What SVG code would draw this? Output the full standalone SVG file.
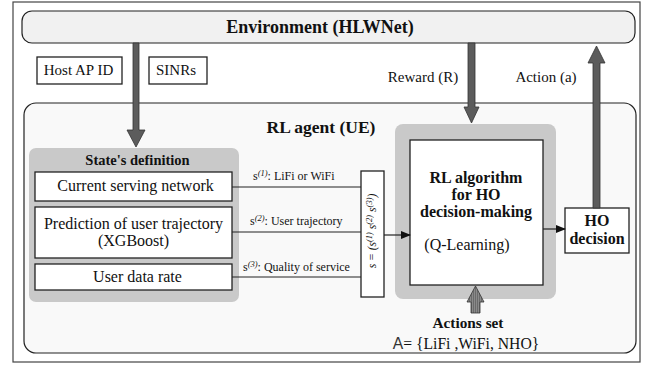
<svg xmlns="http://www.w3.org/2000/svg" width="652" height="365" viewBox="0 0 652 365" font-family="'Liberation Serif', 'DejaVu Serif', serif">
<style>
text{font-family:'Liberation Serif','DejaVu Serif',serif;fill:#111}
.b{font-weight:bold}
.box{fill:#fff;stroke:#222;stroke-width:1.3}
.grey{fill:#c9c9c9;stroke:none}
.arr{fill:#5c5c5c;stroke:#333;stroke-width:0.8}
.ln{stroke:#222;stroke-width:1.2;fill:none}
.lbl{font-size:12px}
.sup{font-size:8.5px;font-style:italic}
</style>
<defs>
<marker id="ah" markerWidth="10" markerHeight="8" refX="9" refY="4" orient="auto" markerUnits="userSpaceOnUse">
<path d="M0,0 L10,4 L0,8 Z" fill="#111"/>
</marker>
<pattern id="hatch" width="2" height="3" patternUnits="userSpaceOnUse">
<rect width="2" height="3" fill="#6a6a6a"/>
<rect width="1" height="3" fill="#8a8a8a"/>
</pattern>
</defs>
<rect x="13" y="2" width="627" height="360" fill="#fff" stroke="#444" stroke-width="1.2"/>
<g id="environment">
<rect x="22" y="11" width="613" height="32" rx="10" fill="#f1f1f1" stroke="#222" stroke-width="1.2"/>
<text x="320" y="33" class="b" font-size="18" text-anchor="middle">Environment (HLWNet)</text>
</g>
<g id="host-ap-id">
<rect x="37" y="57" width="85" height="27" class="box"/>
<text x="78.5" y="75" font-size="15" text-anchor="middle">Host AP ID</text>
</g>
<g id="sinrs">
<rect x="149" y="57" width="58" height="27" class="box"/>
<text x="176" y="75" font-size="15" text-anchor="middle">SINRs</text>
</g>
<text x="423" y="82" font-size="15" text-anchor="middle">Reward (R)</text>
<text x="546" y="82" font-size="15" text-anchor="middle">Action (a)</text>
<g id="rl-agent">
<rect x="24" y="103" width="612" height="250" rx="12" fill="#f9f9f9" stroke="#222" stroke-width="1.2"/>
<text x="321" y="133" class="b" font-size="17.5" text-anchor="middle">RL agent (UE)</text>
</g>
<g id="state-definition">
<rect x="29" y="148" width="210" height="154" rx="7" class="grey"/>
<text x="137.5" y="165" class="b" font-size="14.5" text-anchor="middle">State's definition</text>
</g>
<g id="current-serving-network">
<rect x="35" y="172" width="197" height="29" class="box"/>
<text x="135.5" y="191" font-size="16" text-anchor="middle">Current serving network</text>
</g>
<g id="prediction-trajectory">
<rect x="35" y="207" width="197" height="51" class="box"/>
<text x="133.5" y="229" font-size="16" text-anchor="middle">Prediction of user trajectory</text>
<text x="133.5" y="246" font-size="16" text-anchor="middle">(XGBoost)</text>
</g>
<g id="user-data-rate">
<rect x="35" y="264" width="197" height="26" class="box"/>
<text x="137.5" y="282" font-size="16" text-anchor="middle">User data rate</text>
</g>
<g id="state-vector">
<rect x="361" y="171" width="23" height="126" class="box"/>
<text transform="translate(376,231) rotate(-90)" font-size="11.5" font-style="italic" text-anchor="middle">s = (s<tspan class="sup" dy="-4">(1)</tspan><tspan dy="4"> s</tspan><tspan class="sup" dy="-4">(2)</tspan><tspan dy="4"> s</tspan><tspan class="sup" dy="-4">(3)</tspan><tspan dy="4">)</tspan></text>
</g>
<g id="rl-algorithm">
<rect x="395" y="124" width="161" height="175" rx="8" class="grey"/>
<rect x="410" y="140" width="133" height="145" class="box"/>
<text x="476" y="183" class="b" font-size="16" text-anchor="middle">RL algorithm</text>
<text x="476" y="200" class="b" font-size="16" text-anchor="middle">for HO</text>
<text x="476" y="217" class="b" font-size="16" text-anchor="middle">decision-making</text>
<text x="467" y="250" font-size="16" text-anchor="middle">(Q-Learning)</text>
</g>
<g id="ho-decision">
<rect x="565" y="208" width="64" height="45" class="box"/>
<text x="597" y="225.5" class="b" font-size="16" text-anchor="middle">HO</text>
<text x="597" y="244" class="b" font-size="16" text-anchor="middle">decision</text>
</g>
<g id="actions-set">
<text x="468" y="328" class="b" font-size="15.3" text-anchor="middle">Actions set</text>
<text x="466" y="349" font-size="15.7" text-anchor="middle"><tspan style="font-family:'Liberation Sans',sans-serif" fill="#333">A</tspan>= {LiFi ,WiFi, NHO}</text>
</g>
<g id="connectors">
<polygon class="arr" points="133,43 139,43 139,130 145,130 136,147 127,130 133,130"/>
<polygon class="arr" points="468,43 475,43 475,107 479,107 471.5,123 464,107 468,107"/>
<polygon class="arr" points="593,208 600,208 600,63 605,63 596.5,46 588,63 593,63"/>
<polygon points="471,313 480,313 480,302 484,302 475.5,286 467,302 471,302" fill="url(#hatch)" stroke="#333" stroke-width="0.8"/>
<line class="ln" x1="232" y1="187" x2="361" y2="187"/>
<line class="ln" x1="232" y1="232" x2="361" y2="232"/>
<line class="ln" x1="232" y1="277" x2="361" y2="277"/>
<line class="ln" x1="384" y1="235" x2="410" y2="235" marker-end="url(#ah)"/>
<line class="ln" x1="543" y1="229" x2="565" y2="229" marker-end="url(#ah)"/>
<text x="253" y="180" class="lbl">s<tspan class="sup" dy="-4">(1)</tspan><tspan dy="4">: LiFi or WiFi</tspan></text>
<text x="250" y="225" class="lbl">s<tspan class="sup" dy="-4">(2)</tspan><tspan dy="4">: User trajectory</tspan></text>
<text x="243" y="271" class="lbl">s<tspan class="sup" dy="-4">(3)</tspan><tspan dy="4">: Quality of service</tspan></text>
</g>
</svg>
